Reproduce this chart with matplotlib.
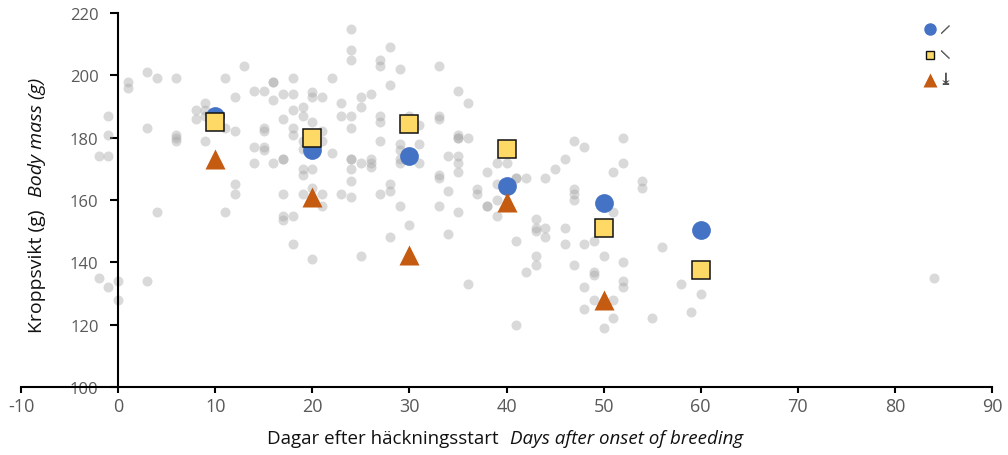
import numpy as np
import matplotlib
matplotlib.use('Agg')
import matplotlib.pyplot as plt
from matplotlib import font_manager
from matplotlib.ft2font import FT2Font

# group means
mean_days = [10, 20, 30, 40, 50, 60]
blue_mass = [187, 176, 174, 164.5, 159, 150.5]
yellow_mass = [185, 180, 184.5, 176.5, 151, 137.5]
tri_days = [10, 20, 30, 40, 50]
orange_mass = [173, 161, 142.5, 159.5, 128]

# individual birds (grey background dots), one line per day
bg_day = ([-2] * 2 + [-1] * 4 + [0] * 2 + [1] * 2 + [3] * 3 + [4] * 2 + [6] * 4 +
          [8] * 2 + [9] * 4 + [11] * 3 + [12] * 4 + [13] + [14] * 3 + [15] * 5 +
          [16] * 4 + [17] * 7 + [18] * 7 + [19] * 7 + [20] * 6 + [21] * 5 + [22] * 2 +
          [23] * 3 + [24] * 10 + [25] * 4 + [26] * 4 + [27] * 6 + [28] * 5 + [29] * 6 +
          [30] * 2 + [31] * 3 + [33] * 6 + [34] * 3 + [35] * 8 + [36] * 3 + [37] * 2 +
          [38] * 3 + [39] * 4 + [40] * 2 + [41] * 4 + [42] * 2 + [43] * 5 + [44] * 3 +
          [45] + [46] * 3 + [47] * 5 + [48] * 4 + [49] * 4 + [50] * 2 + [51] * 4 +
          [52] * 5 + [54] * 2 + [55] + [56] + [58] + [59] + [60] + [84])
bg_mass = [174, 135,
           187, 181, 174, 132,
           134, 128,
           198, 196,
           201, 183, 134,
           199, 156,
           199, 181, 180, 179,
           189, 186,
           191, 189, 187, 179,
           199, 183, 156,
           193, 182, 165, 162,
           203,
           195, 177, 172,
           195, 183, 182, 177, 176,
           198, 198, 192, 172,
           194, 186, 173, 173, 162, 155, 153.5,
           199, 194, 189, 183, 181, 155, 146,
           190, 187, 179, 176.5, 170, 168, 162,
           194.5, 193, 185, 170, 164, 141,
           193, 182, 179, 162, 158,
           199, 175,
           191, 187, 162,
           215, 208, 205, 187, 183, 173, 173, 170, 166, 161,
           193, 190, 172, 142,
           194, 173, 172, 170.5,
           205, 203, 187, 185, 179, 162,
           209, 197, 165, 163, 148,
           202, 178, 176, 173, 172, 158,
           187, 152,
           184, 178, 172,
           203, 187, 186, 168, 167, 158,
           174, 163, 149,
           195, 181, 180, 180, 174, 172, 169, 156,
           191, 180, 133,
           163.5, 162,
           169, 158, 158,
           172, 165, 160, 155,
           172, 165,
           167, 167, 147, 120,
           167, 137,
           154, 151, 150, 142, 139,
           167, 151, 148,
           170,
           173, 151, 146,
           179, 163.5, 162, 160, 139,
           177, 146, 132, 125,
           147, 137, 136, 128,
           142, 119,
           169, 156, 128, 122,
           180, 172, 140, 134, 132,
           166, 164,
           122,
           145,
           133,
           124,
           130,
           135]

x_ticks = np.arange(-10, 91, 10)
y_ticks = np.arange(100, 221, 20)
legend_labels = ['\u27cb', '\u27cd', '\u2913']


def has_font(name):
    try:
        font_manager.findfont(name, fallback_to_default=False)
        return True
    except Exception:
        return False


def family_with_glyph(ch):
    # look through the installed fonts for one that really has the character
    for entry in font_manager.fontManager.ttflist:
        try:
            if ord(ch) in FT2Font(entry.fname).get_charmap():
                return entry.name
        except Exception:
            continue
    return None


main_font = 'Open Sans' if has_font('Open Sans') else 'DejaVu Sans'
narrow_font = 'Liberation Sans Narrow' if has_font('Liberation Sans Narrow') else main_font
plt.rcParams['font.family'] = [main_font, 'DejaVu Sans']
plt.rcParams['axes.unicode_minus'] = False

fig = plt.figure(figsize=(10.08, 4.56), dpi=100)
ax = fig.add_axes([21 / 1008, 1 - 388 / 456, 971 / 1008, 374 / 456])

ax.plot(bg_day, bg_mass, 'o', ms=7.2, color='#a5a5a5', alpha=0.42, mec='none', zorder=2)
ax.plot(mean_days, blue_mass, 'o', ms=13.5, color='#4472c4', mec='none', zorder=3)
ax.plot(mean_days, yellow_mass, 's', ms=13.5, mfc='#ffd966', mec='#111111', mew=1.1, zorder=4)
ax.plot(tri_days, orange_mass, '^', ms=14.5, color='#c55a11', mec='none', zorder=3)

ax.set_xlim(-10, 90)
ax.set_ylim(100, 220)
ax.set_xticks(x_ticks)
ax.set_yticks(y_ticks)
ax.spines['top'].set_visible(False)
ax.spines['right'].set_visible(False)
ax.spines['left'].set_position(('data', 0))
for s in ('left', 'bottom'):
    ax.spines[s].set_linewidth(1.5)
    ax.spines[s].set_color('black')
ax.tick_params(axis='y', direction='out', length=6, width=1.5, pad=8,
               labelsize=12, labelcolor='#595959')
ax.tick_params(axis='x', direction='out', length=4.5, width=1.5, pad=3,
               labelsize=13, labelcolor='#595959')
for lab in ax.get_xticklabels():
    lab.set_fontfamily([narrow_font, 'DejaVu Sans'])

# axis titles, Swedish + English italic
fig.text(499 / 1008, 12 / 456, 'Dagar efter häckningsstart', ha='right', va='baseline',
         fontsize=13.5, family=[narrow_font, 'DejaVu Sans'], color='#111111')
fig.text(510 / 1008, 12 / 456, 'Days after onset of breeding', ha='left', va='baseline',
         fontsize=13.5, style='italic', family=[narrow_font, 'DejaVu Sans'], color='#111111')
fig.text(37 / 1008, 1 - 333 / 456, 'Kroppsvikt (g)', rotation=90, ha='center', va='bottom',
         fontsize=14, color='#111111')
fig.text(37 / 1008, 1 - 197 / 456, 'Body mass (g)', rotation=90, ha='center', va='bottom',
         fontsize=14, style='italic', color='#111111')

# legend, drawn by hand in axes fraction
key_x = 0.936
lab_x = 0.952
rows = [0.957, 0.888, 0.822]
ax.plot(key_x, rows[0], 'o', ms=9, color='#4472c4', mec='none', transform=ax.transAxes, clip_on=False)
ax.plot(key_x, rows[1], 's', ms=6.3, mfc='#ffd966', mec='#111111', mew=1.0,
        transform=ax.transAxes, clip_on=False)
ax.plot(key_x, rows[2], '^', ms=10.5, color='#c55a11', mec='none', transform=ax.transAxes, clip_on=False)

leg_grey = '#4d4d4d'
for lbl, yy in zip(legend_labels, rows):
    fam = family_with_glyph(lbl)
    if fam is not None:
        ax.text(lab_x, yy, lbl, transform=ax.transAxes, ha='center', va='center',
                fontsize=12, fontweight='bold', color=leg_grey, family=[fam, 'DejaVu Sans'])
        continue
    # no installed family has this sign: draw it as a small shape
    px = lambda v: v / 971.0
    py = lambda v: v / 374.0
    if lbl == '\u27cb':
        ax.plot([lab_x - px(4), lab_x + px(4)], [yy - py(4), yy + py(4)], color=leg_grey,
                lw=1.8, solid_capstyle='round', transform=ax.transAxes, clip_on=False)
    elif lbl == '\u27cd':
        ax.plot([lab_x - px(4), lab_x + px(4)], [yy + py(4), yy - py(4)], color=leg_grey,
                lw=1.8, solid_capstyle='round', transform=ax.transAxes, clip_on=False)
    else:
        ax.plot([lab_x, lab_x], [yy + py(6), yy - py(4)], color=leg_grey, lw=1.0,
                transform=ax.transAxes, clip_on=False)
        ax.plot([lab_x - px(3), lab_x, lab_x + px(3)], [yy - py(1), yy - py(4), yy - py(1)],
                color=leg_grey, lw=1.0, transform=ax.transAxes, clip_on=False)
        ax.plot([lab_x - px(4.5), lab_x + px(4.5)], [yy - py(5.5), yy - py(5.5)], color=leg_grey,
                lw=1.0, transform=ax.transAxes, clip_on=False)

fig.savefig('out.png', dpi=100)
